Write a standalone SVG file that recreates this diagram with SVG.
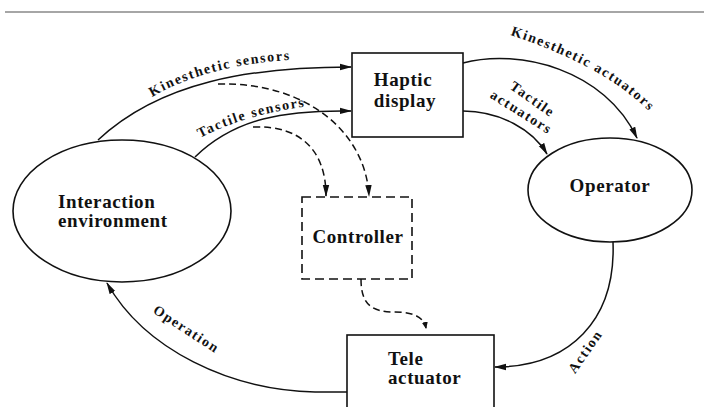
<svg xmlns="http://www.w3.org/2000/svg" xmlns:xlink="http://www.w3.org/1999/xlink" width="704" height="407" viewBox="0 0 704 407">
  <style>
    .shape { fill: #ffffff; stroke: #111111; stroke-width: 1.6; }
    .dashbox { fill: #ffffff; stroke: #111111; stroke-width: 1.6; stroke-dasharray: 9 5; }
    .conn { fill: none; stroke: #111111; stroke-width: 1.5; }
    .dash { fill: none; stroke: #111111; stroke-width: 1.5; stroke-dasharray: 7 4; }
    .node { font-family: "Liberation Serif", "Times New Roman", serif; font-weight: bold; font-size: 19px; letter-spacing: 0.6px; fill: #111111; }
    .lbl { font-family: "Liberation Serif", "Times New Roman", serif; font-weight: bold; font-size: 14px; letter-spacing: 1.6px; fill: #111111; }
  </style>
  <defs>
    <marker id="arr" viewBox="0 0 12 8" refX="11" refY="4" markerWidth="12" markerHeight="8" markerUnits="userSpaceOnUse" orient="auto">
      <path d="M0,0.8 L12,4 L0,7.2 z" fill="#111111"/>
    </marker>
    <marker id="dot" viewBox="0 0 8 8" refX="6" refY="4" markerWidth="8" markerHeight="8" markerUnits="userSpaceOnUse" orient="auto">
      <path d="M0,1 L7,4 L0,7 z" fill="#111111"/>
    </marker>
    <path id="lp1" d="M152,97 Q 210,63 304,59"/>
    <path id="lp2" d="M200,138 Q 252,111 322,105"/>
    <path id="lp3" d="M510,35 Q 612,68 658,121"/>
  </defs>

  <line x1="5" y1="12" x2="704" y2="12" stroke="#888888" stroke-width="1.5"/>

  <g id="connectors">
    <path class="conn" d="M98,140 C 160,82 250,67 351,67" marker-end="url(#arr)"/>
    <path class="conn" d="M195,157 C 235,118 285,110 351,111" marker-end="url(#arr)"/>
    <path class="dash" d="M218,84 C 310,82 366,135 369,196" marker-end="url(#arr)"/>
    <path class="dash" d="M253,127 C 300,125 326,150 326,196" marker-end="url(#arr)"/>
    <path class="conn" d="M463,63 C 520,48 605,70 637,138" marker-end="url(#arr)"/>
    <path class="conn" d="M463,111 C 500,111 533,130 547,154" marker-end="url(#arr)"/>
    <path class="conn" d="M613,242 C 616,320 570,367 495,367" marker-end="url(#arr)"/>
    <path class="conn" d="M347,392 L 315,392 C 230,390 145,350 107,283" marker-end="url(#arr)"/>
    <path class="dash" d="M361,279 C 361,305 372,312 395,312 C 415,312 424,318 426,328" marker-end="url(#dot)"/>
    <text class="lbl"><textPath xlink:href="#lp1" href="#lp1">Kinesthetic sensors</textPath></text>
    <text class="lbl"><textPath xlink:href="#lp2" href="#lp2">Tactile sensors</textPath></text>
    <text class="lbl"><textPath xlink:href="#lp3" href="#lp3">Kinesthetic actuators</textPath></text>
    <text class="lbl" text-anchor="middle" transform="translate(530,103) rotate(35)">Tactile</text>
    <text class="lbl" text-anchor="middle" transform="translate(519,116) rotate(32)">actuators</text>
    <text class="lbl" text-anchor="middle" transform="translate(589,354) rotate(-55)">Action</text>
    <text class="lbl" text-anchor="middle" transform="translate(184,333) rotate(33)">Operation</text>
  </g>

  <g id="interaction-environment">
    <ellipse class="shape" cx="122" cy="211" rx="109" ry="71"/>
    <text class="node" x="58" y="208">Interaction</text>
    <text class="node" x="58" y="227">environment</text>
  </g>

  <g id="haptic-display">
    <rect class="shape" x="352" y="53" width="111" height="84"/>
    <text class="node" x="403" y="86" text-anchor="middle">Haptic</text>
    <text class="node" x="405" y="107" text-anchor="middle">display</text>
  </g>

  <g id="operator">
    <ellipse class="shape" cx="610" cy="190" rx="82" ry="52"/>
    <text class="node" x="610" y="192" text-anchor="middle">Operator</text>
  </g>

  <g id="controller">
    <rect class="dashbox" x="302" y="197" width="110" height="82"/>
    <text class="node" x="358" y="243" text-anchor="middle">Controller</text>
  </g>

  <g id="tele-actuator">
    <rect class="shape" x="347" y="335" width="147" height="80"/>
    <text class="node" x="388" y="365">Tele</text>
    <text class="node" x="388" y="384">actuator</text>
  </g>
</svg>
